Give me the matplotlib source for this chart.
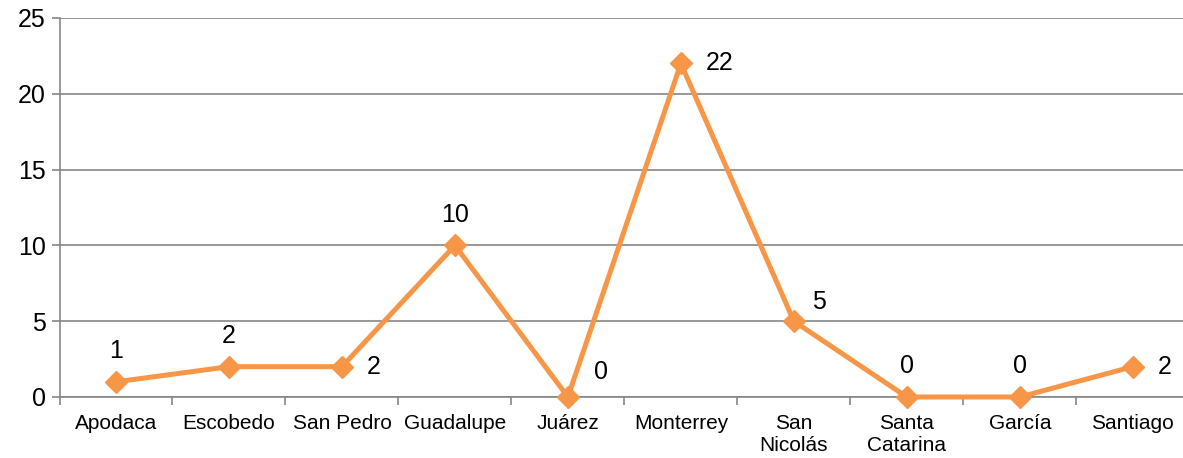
import matplotlib.pyplot as plt
import numpy as np

# 数据
municipios = ['Apodaca', 'Escobedo', 'San Pedro', 'Guadalupe', 'Juárez',
              'Monterrey', 'San\nNicolás', 'Santa\nCatarina', 'García', 'Santiago']
valores = [1, 2, 2, 10, 0, 22, 5, 0, 0, 2]
# desplazamiento de la etiqueta (puntos) y alineación horizontal
desp_x = [0, 0, 18, 0, 19, 18, 13, 0, 0, 18]
desp_y = [22, 22, 0, 22, 18, 0, 14, 22, 22, 0]
alin = ['center', 'center', 'left', 'center', 'left', 'left', 'left', 'center', 'center', 'left']

plt.rcParams['font.family'] = ['Liberation Sans', 'DejaVu Sans']

naranja = '#F79646'
gris = '#868686'

fig = plt.figure(figsize=(11.83, 4.58), dpi=100)
# el área del gráfico se sale un poco por la derecha, como en el original
ax = fig.add_axes([0.0503, 0.1332, 0.955, 0.8275])

x = np.arange(len(municipios))
ax.plot(x, valores, color=naranja, linewidth=3.6, marker='D', markersize=11,
        markeredgecolor=naranja, markerfacecolor=naranja, zorder=3, clip_on=False)

for xi, v, dx, dy, ha in zip(x, valores, desp_x, desp_y, alin):
    ax.annotate(str(v), (xi, v), xytext=(dx, dy), textcoords='offset points',
                ha=ha, va='center', fontsize=18)

ax.set_xlim(-0.5, len(municipios) - 0.5)
ax.set_ylim(0, 25)
ax.set_yticks(range(0, 26, 5))
ax.tick_params(axis='y', labelsize=18, length=6, color=gris, width=1.2, pad=4)

ax.set_xticks(x)
ax.set_xticklabels(municipios, fontsize=15, linespacing=1.25)
ax.set_xticks(np.arange(-0.5, len(municipios), 1), minor=True)
ax.tick_params(axis='x', which='major', length=0, pad=12)
ax.tick_params(axis='x', which='minor', length=6, color=gris, width=1.2)

ax.grid(axis='y', color=gris, linewidth=1.2)
ax.set_axisbelow(True)
for s in ['top', 'right']:
    ax.spines[s].set_visible(False)
for s in ['left', 'bottom']:
    ax.spines[s].set_color(gris)
    ax.spines[s].set_linewidth(1.2)

fig.savefig('out.png', dpi=100)
